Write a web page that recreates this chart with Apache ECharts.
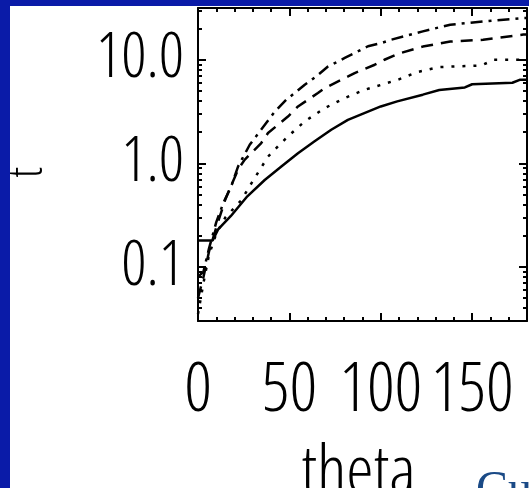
<!DOCTYPE html>
<html>
<head>
<meta charset="utf-8">
<script src="https://cdn.jsdelivr.net/npm/echarts@6/dist/echarts.min.js"></script>
<style>
html,body{margin:0;padding:0;background:#ffffff;}
#chart{width:529px;height:488px;}
</style>
</head>
<body>
<div id="chart"></div>
<script>
// ---- data ----
var xTickValues = [0, 50, 100, 150];
var yTickLabels = ['0.1', '1.0', '10.0'];

var thetaSolid = [0, 8, 11, 18, 27, 36.5, 45.6, 54.7, 63.8, 72.9, 82, 91, 100, 109, 123, 132, 146, 150, 172, 176, 180];
var valuesSolid = [0.18, 0.18, 0.23, 0.31, 0.48, 0.69, 0.93, 1.25, 1.63, 2.11, 2.63, 3.05, 3.54, 3.96, 4.6, 5.1, 5.4, 5.8, 6.0, 6.4, 6.4];

var thetaDotted = [0, 3, 6, 10, 15, 23.7, 29.2, 38.3, 43.8, 49.2, 58.4, 69.3, 80.3, 91.2, 100.3, 109.4, 120, 132, 155, 162, 180];
var valuesDotted = [0.035, 0.07, 0.13, 0.21, 0.3, 0.44, 0.64, 1.16, 1.46, 1.82, 2.54, 3.41, 4.27, 5.13, 5.73, 6.41, 7.6, 8.5, 8.8, 10.0, 10.0];

var thetaDashed = [0, 3, 6, 10, 15, 21.9, 25.5, 34.6, 38.3, 49.2, 54.7, 65.6, 69.3, 82.1, 85.7, 96.7, 102, 110, 123, 138, 156, 178, 180];
var valuesDashed = [0.05, 0.08, 0.14, 0.24, 0.45, 0.87, 1.08, 1.57, 1.96, 2.83, 3.54, 4.77, 5.32, 6.9, 7.43, 8.95, 10.0, 11.5, 13.4, 15.0, 15.6, 17.5, 17.5];

var thetaDashDot = [0, 3, 6, 10, 14, 18.2, 21.9, 28.3, 33.8, 42, 48.3, 52.9, 58.4, 64.7, 71.1, 80.3, 85.7, 93, 100.3, 105.7, 123, 138, 156, 178, 180];
var valuesDashDot = [0.08, 0.09, 0.15, 0.27, 0.42, 0.60, 0.93, 1.51, 2.03, 3.16, 4.11, 4.77, 5.73, 6.9, 8.6, 10.4, 11.6, 13.5, 14.5, 15.6, 18.8, 21.8, 23.4, 25.3, 25.3];

function pairs(xs, ys) {
  var out = [];
  for (var i = 0; i < xs.length; i++) out.push([xs[i], ys[i]]);
  return out;
}

var FONT = "'Open Sans', 'Roboto Condensed', sans-serif";
var WEIGHT = '300 condensed';

var chart = echarts.init(document.getElementById('chart'), null, {renderer: 'canvas'});

function xAxisCommon(pos, showLabel) {
  return {
    type: 'value', position: pos, min: 0, max: 180, interval: 50,
    axisLine: {show: true, onZero: false, lineStyle: {color: '#000', width: 2}},
    axisTick: {show: true, inside: true, length: 8, lineStyle: {color: '#000', width: 2}},
    minorTick: {show: true, splitNumber: 5, length: 4, lineStyle: {color: '#000', width: 2}},
    splitLine: {show: false},
    axisLabel: {
      show: showLabel, showMaxLabel: false, margin: 37,
      fontFamily: FONT, fontWeight: WEIGHT, fontSize: 68, color: '#000',
      formatter: function (v) { return xTickValues.indexOf(v) >= 0 ? String(v) : ''; }
    }
  };
}

function yAxisCommon(pos, showLabel) {
  return {
    type: 'log', logBase: 10, position: pos, min: 0.03, max: 31.6,
    axisLine: {show: true, onZero: false, lineStyle: {color: '#000', width: 2}},
    axisTick: {show: true, inside: true, length: 8, lineStyle: {color: '#000', width: 2}},
    minorTick: {show: true, splitNumber: 9, length: 4, lineStyle: {color: '#000', width: 2}},
    splitLine: {show: false},
    axisLabel: {
      show: showLabel, showMinLabel: false, showMaxLabel: false, margin: 14,
      fontFamily: FONT, fontWeight: WEIGHT, fontSize: 62, color: '#000',
      formatter: function (v) {
        var s = v.toFixed(1);
        return yTickLabels.indexOf(s) >= 0 ? s : '';
      }
    }
  };
}

var xb = xAxisCommon('bottom', true);
xb.name = 'theta';
xb.nameLocation = 'middle';
xb.nameGap = 119;
xb.nameTextStyle = {fontFamily: FONT, fontWeight: WEIGHT, fontSize: 69, color: '#000', padding: [0, 8, 0, 0]};
var xt = xAxisCommon('top', false);

var yl = yAxisCommon('left', true);
yl.name = 't';
yl.nameLocation = 'middle';
yl.nameRotate = 90;
yl.nameGap = 146;
yl.nameTextStyle = {fontFamily: FONT, fontWeight: WEIGHT, fontSize: 48, color: '#000', padding: [0, 16, 0, 0]};
var yr = yAxisCommon('right', false);

var option = {
  backgroundColor: '#ffffff',
  animation: false,
  grid: {left: 198, top: 8, right: 2, bottom: 167, containLabel: false, outerBoundsMode: 'none'},
  xAxis: [xb, xt],
  yAxis: [yl, yr],
  series: [
    {type: 'line', xAxisIndex: 0, yAxisIndex: 0, showSymbol: false, symbol: 'none',
     lineStyle: {color: '#000', width: 2.5, type: 'solid'}, data: pairs(thetaSolid, valuesSolid)},
    {type: 'line', xAxisIndex: 0, yAxisIndex: 0, showSymbol: false, symbol: 'none',
     lineStyle: {color: '#000', width: 2.5, type: [3, 8]}, data: pairs(thetaDotted, valuesDotted)},
    {type: 'line', xAxisIndex: 0, yAxisIndex: 0, showSymbol: false, symbol: 'none',
     lineStyle: {color: '#000', width: 2.5, type: [12, 8]}, data: pairs(thetaDashed, valuesDashed)},
    {type: 'line', xAxisIndex: 0, yAxisIndex: 0, showSymbol: false, symbol: 'none',
     lineStyle: {color: '#000', width: 2.5, type: [12, 6, 3, 6]}, data: pairs(thetaDashDot, valuesDashDot)}
  ],
  graphic: [
    {type: 'rect', z: 100, shape: {x: 0, y: 0, width: 529, height: 6}, style: {fill: '#0a1ba8'}},
    {type: 'rect', z: 100, shape: {x: 0, y: 0, width: 10, height: 488}, style: {fill: '#0a1ba8'}},
    {type: 'text', z: 50, style: {x: 476, y: 467, text: 'Cu', fill: '#1a4a86',
      font: "48px 'Liberation Serif', 'DejaVu Serif', serif", verticalAlign: 'top'}}
  ]
};
chart.setOption(option);
</script>
</body>
</html>
